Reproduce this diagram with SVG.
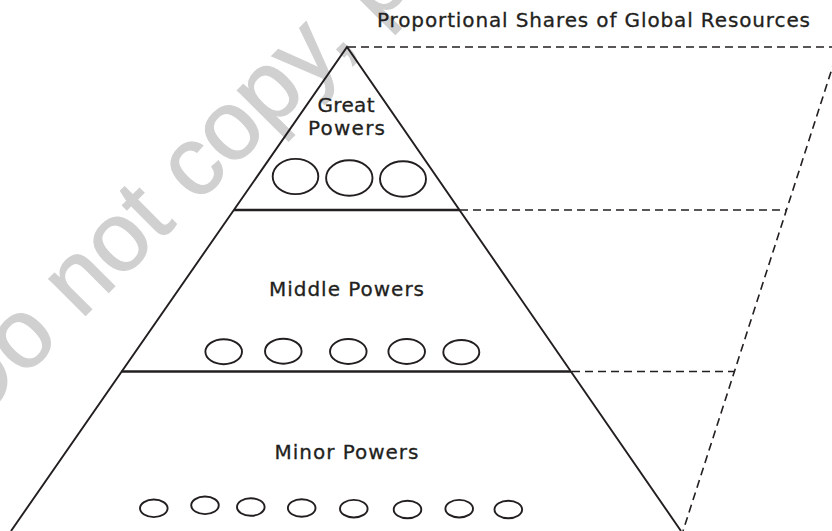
<svg xmlns="http://www.w3.org/2000/svg" width="832" height="531" viewBox="0 0 832 531">
  <style>
    .lbl { font-family: "DejaVu Sans", "Liberation Sans", sans-serif; font-size: 20px; fill: #231f20; stroke: #231f20; stroke-width: 0.3; }
    .solid { fill: none; stroke: #231f20; stroke-width: 1.9; stroke-linejoin: miter; }
    .tier { fill: none; stroke: #231f20; stroke-width: 2.7; }
    .dash { fill: none; stroke: #231f20; stroke-width: 1.6; stroke-dasharray: 8 5; }
    .ov { fill: none; stroke: #231f20; stroke-width: 1.9; }
    .wm { font-family: "Liberation Sans", "DejaVu Sans", sans-serif; font-size: 98px; fill: #d0d0d0; stroke: #d0d0d0; stroke-width: 1.2; }
  </style>
  <rect width="832" height="531" fill="#ffffff"/>
  <text class="wm" transform="translate(-27 428) rotate(-45)">Do not copy, post, or distribute</text>

  <g id="title">
    <text class="lbl" x="377" y="27" textLength="433" lengthAdjust="spacing">Proportional Shares of Global Resources</text>
  </g>

  <g id="pyramid">
    <path class="solid" d="M11,531 L347,47 L681,531"/>
    <line class="tier" x1="234" y1="210" x2="459.5" y2="210"/>
    <line class="tier" x1="121.5" y1="371.5" x2="571" y2="371.5"/>
  </g>

  <g id="great-powers">
    <text class="lbl" x="317.5" y="111.7" textLength="57" lengthAdjust="spacing">Great</text>
    <text class="lbl" x="308" y="135" textLength="77" lengthAdjust="spacing">Powers</text>
    <ellipse class="ov" cx="295.5" cy="176.5" rx="22.8" ry="17.6"/>
    <ellipse class="ov" cx="349.3" cy="178" rx="23.2" ry="17.8"/>
    <ellipse class="ov" cx="403" cy="179" rx="23" ry="17.8"/>
  </g>

  <g id="middle-powers">
    <text class="lbl" x="269" y="296" textLength="155" lengthAdjust="spacing">Middle Powers</text>
    <ellipse class="ov" cx="223.7" cy="351.7" rx="18.3" ry="12.5"/>
    <ellipse class="ov" cx="283.3" cy="351.2" rx="18.3" ry="12.5"/>
    <ellipse class="ov" cx="348.3" cy="351.5" rx="18.3" ry="12.5"/>
    <ellipse class="ov" cx="406.7" cy="351.5" rx="18.3" ry="12.5"/>
    <ellipse class="ov" cx="461.3" cy="352.2" rx="18" ry="12.2"/>
  </g>

  <g id="minor-powers">
    <text class="lbl" x="274.5" y="459.3" textLength="144" lengthAdjust="spacing">Minor Powers</text>
    <ellipse class="ov" cx="153.8" cy="508.3" rx="13.8" ry="8.8"/>
    <ellipse class="ov" cx="205" cy="505.3" rx="13.8" ry="8.8"/>
    <ellipse class="ov" cx="250.8" cy="507" rx="13.8" ry="8.8"/>
    <ellipse class="ov" cx="301.7" cy="508" rx="13.8" ry="8.8"/>
    <ellipse class="ov" cx="353.8" cy="508.7" rx="13.8" ry="8.8"/>
    <ellipse class="ov" cx="407.5" cy="509.5" rx="13.8" ry="8.8"/>
    <ellipse class="ov" cx="459.2" cy="508.7" rx="13.8" ry="8.8"/>
    <ellipse class="ov" cx="508.3" cy="509.5" rx="13.8" ry="8.8"/>
  </g>

  <g id="connectors">
    <line class="dash" x1="348" y1="47" x2="840" y2="47"/>
    <line class="dash" x1="460" y1="210" x2="787" y2="210"/>
    <line class="dash" x1="572" y1="371.5" x2="735" y2="371.5"/>
    <line class="dash" x1="839" y1="47" x2="683" y2="531"/>
  </g>
</svg>
